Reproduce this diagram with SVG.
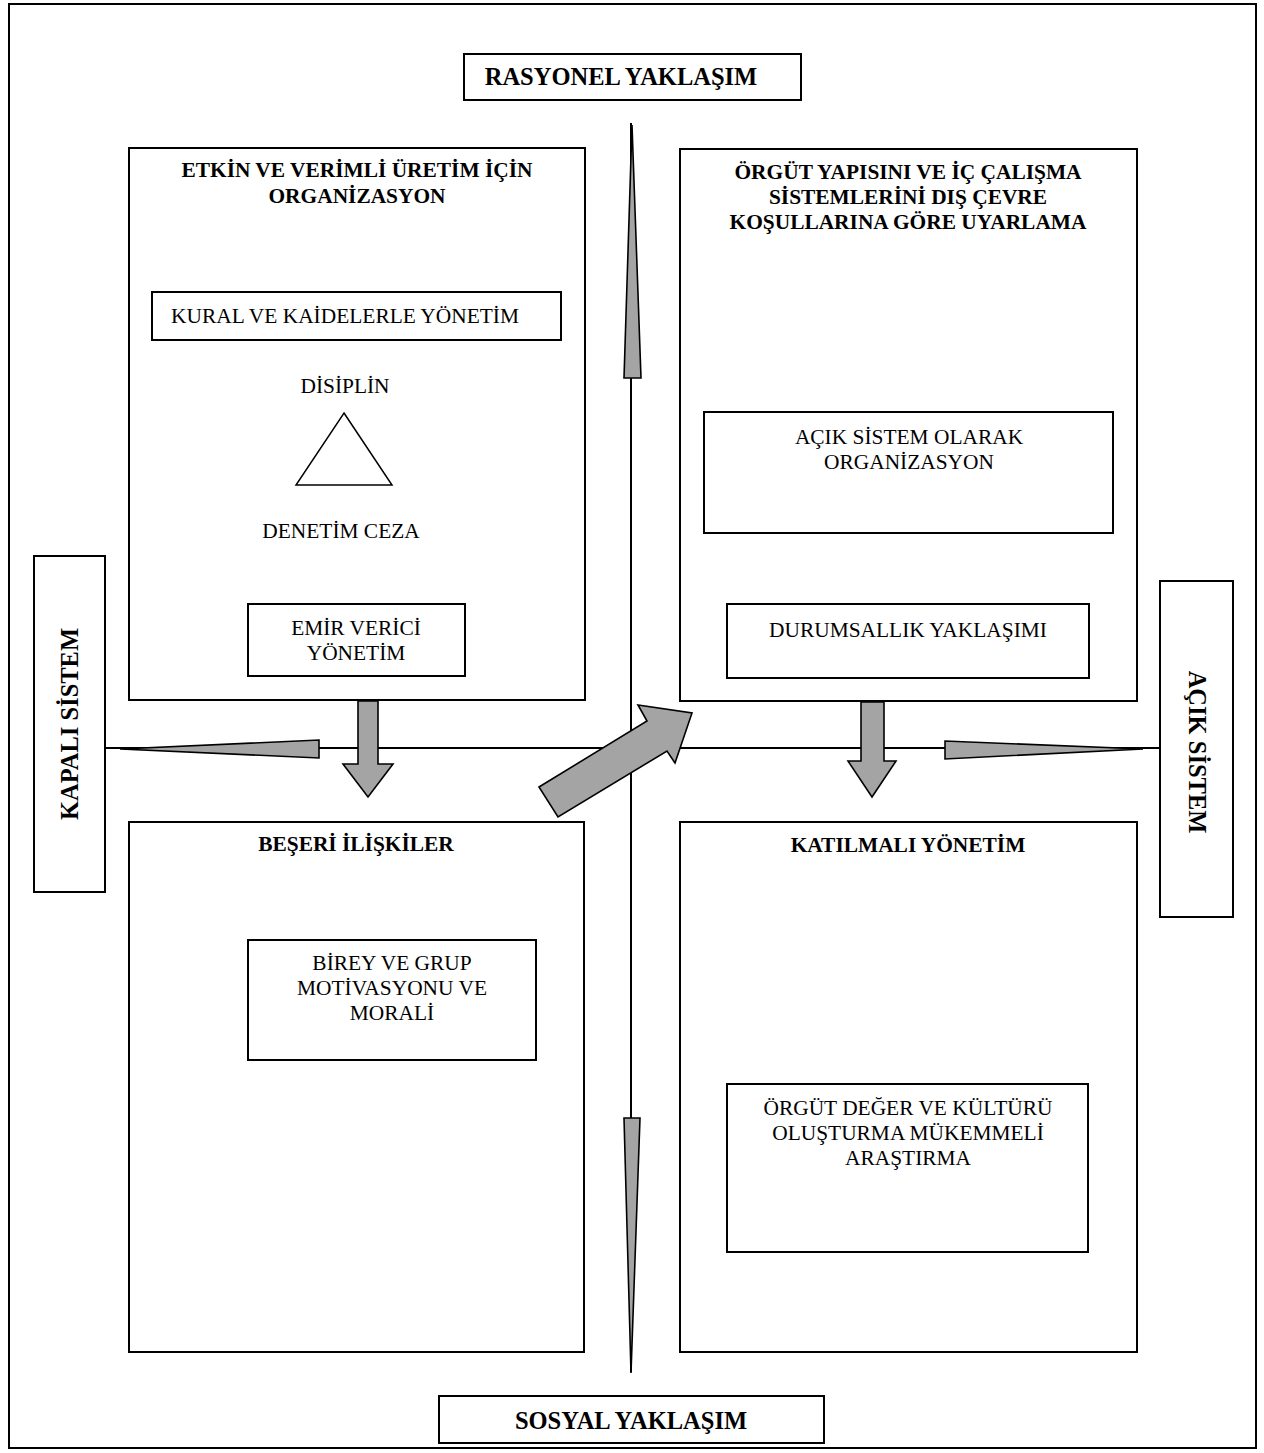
<svg xmlns="http://www.w3.org/2000/svg" width="1264" height="1453" viewBox="0 0 1264 1453">
<style>
.box{fill:#fff;stroke:#000;stroke-width:2}
.t{font-family:"Liberation Serif","Times New Roman",serif;font-size:21.4px;fill:#000;text-anchor:middle}
.b{font-weight:bold}
.e{font-size:24.5px}
.ln{stroke:#000;stroke-width:2;fill:none}
.sp{fill:#a4a4a4;stroke:#000;stroke-width:1.6;stroke-linejoin:miter}
</style>
<rect x="0" y="0" width="1264" height="1453" fill="#fff"/>
<rect id="frame" x="9" y="4" width="1247" height="1444" fill="none" stroke="#000" stroke-width="2"/>
<g id="connectors">
<line class="ln" x1="631" y1="123" x2="631" y2="1372"/>
<line class="ln" x1="105" y1="748" x2="1160" y2="748"/>
<polygon class="sp" points="632,125 641,378 624,378"/>
<polygon class="sp" points="624,1118 640,1118 631,1373"/>
<polygon class="sp" points="120,749 319,740 319,758"/>
<polygon class="sp" points="1143,749 945,741 945,759"/>
<polygon class="sp" points="358,701 378,701 378,764 393,764 368,797 343,764 358,764"/>
<polygon class="sp" points="861,702 884,702 884,761 896,761 872,797 848,761 861,761"/>
<polygon class="sp" points="539,787 647,721 638,705 692,713 675,763 667,751 558,817"/>
</g>
<g id="rasyonel"><rect class="box" x="464" y="54" width="337" height="46"/><text class="t b e" x="621" y="85">RASYONEL YAKLAŞIM</text></g>
<g id="sosyal"><rect class="box" x="439" y="1396" width="385" height="47"/><text class="t b e" x="631" y="1429">SOSYAL YAKLAŞIM</text></g>
<g id="kapali"><rect class="box" x="34" y="556" width="71" height="336"/><text class="t b e" transform="translate(78,724) rotate(-90)" x="0" y="0">KAPALI SİSTEM</text></g>
<g id="acik"><rect class="box" x="1160" y="581" width="73" height="336"/><text class="t b e" transform="translate(1189,752) rotate(90)" x="0" y="0">AÇIK SİSTEM</text></g>
<g id="q1">
<rect class="box" x="129" y="148" width="456" height="552"/>
<text class="t b" x="357" y="177">ETKİN VE VERİMLİ ÜRETİM İÇİN</text>
<text class="t b" x="357" y="203">ORGANİZASYON</text>
</g>
<g id="kural"><rect class="box" x="152" y="292" width="409" height="48"/><text class="t" x="345" y="323">KURAL VE KAİDELERLE YÖNETİM</text></g>
<g id="disiplin"><text class="t" x="345" y="393">DİSİPLİN</text><polygon points="344,413 392,485 296,485" fill="#fff" stroke="#000" stroke-width="1.5"/><text class="t" x="341" y="538">DENETİM CEZA</text></g>
<g id="emir"><rect class="box" x="248" y="604" width="217" height="72"/><text class="t" x="356" y="635">EMİR VERİCİ</text><text class="t" x="356" y="660">YÖNETİM</text></g>
<g id="q2">
<rect class="box" x="680" y="149" width="457" height="552"/>
<text class="t b" x="908" y="179">ÖRGÜT YAPISINI VE İÇ ÇALIŞMA</text>
<text class="t b" x="908" y="204">SİSTEMLERİNİ DIŞ ÇEVRE</text>
<text class="t b" x="908" y="229">KOŞULLARINA GÖRE UYARLAMA</text>
</g>
<g id="acikorg"><rect class="box" x="704" y="412" width="409" height="121"/><text class="t" x="909" y="444">AÇIK SİSTEM OLARAK</text><text class="t" x="909" y="469">ORGANİZASYON</text></g>
<g id="durum"><rect class="box" x="727" y="604" width="362" height="74"/><text class="t" x="908" y="637">DURUMSALLIK YAKLAŞIMI</text></g>
<g id="q3">
<rect class="box" x="129" y="822" width="455" height="530"/>
<text class="t b" x="356" y="851">BEŞERİ İLİŞKİLER</text>
</g>
<g id="birey"><rect class="box" x="248" y="940" width="288" height="120"/><text class="t" x="392" y="970">BİREY VE GRUP</text><text class="t" x="392" y="995">MOTİVASYONU VE</text><text class="t" x="392" y="1020">MORALİ</text></g>
<g id="q4">
<rect class="box" x="680" y="822" width="457" height="530"/>
<text class="t b" x="908" y="852">KATILMALI YÖNETİM</text>
</g>
<g id="orgut"><rect class="box" x="727" y="1084" width="361" height="168"/><text class="t" x="908" y="1115">ÖRGÜT DEĞER VE KÜLTÜRÜ</text><text class="t" x="908" y="1140">OLUŞTURMA MÜKEMMELİ</text><text class="t" x="908" y="1165">ARAŞTIRMA</text></g>
</svg>
